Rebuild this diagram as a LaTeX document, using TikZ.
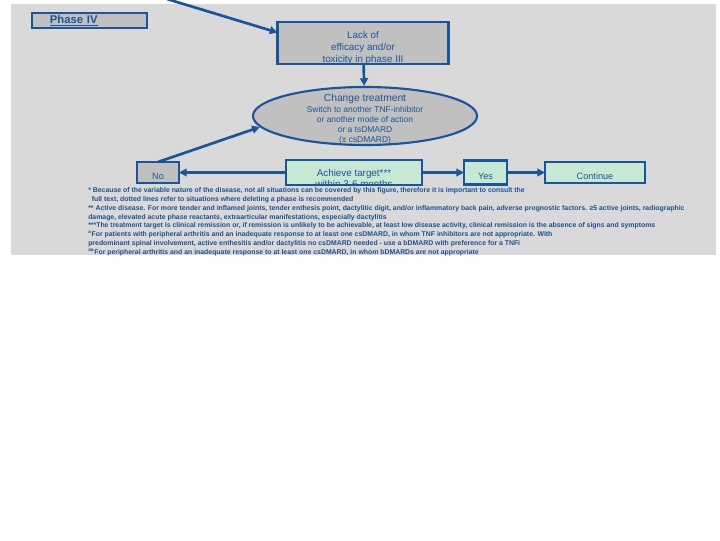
\documentclass[tikz,border=0pt]{standalone}
\usepackage{fontspec}
\setmainfont{Liberation Sans}
\usetikzlibrary{shapes.geometric,arrows.meta}
\definecolor{bggray}{HTML}{D9D9D9}
\definecolor{boxgray}{HTML}{C0C0C0}
\definecolor{boxgreen}{HTML}{C6E8D5}
\definecolor{navy}{HTML}{1C5597}
\definecolor{noteblue}{HTML}{1F4F8E}

\begin{document}
\begin{tikzpicture}[x=0.025cm,y=-0.025cm,
    box/.style={draw=navy,line width=1.5pt,text=navy,inner sep=0pt,outer sep=0pt},
    graybox/.style={box,fill=boxgray},
    greenbox/.style={box,fill=boxgreen},
    lowtext/.style={text height=10pt,text depth=0pt},
    flow/.style={draw=navy,line width=1.9pt,-{Triangle[length=5.5pt,width=5.5pt]}}]
    \useasboundingbox (0,0) rectangle (720,540);
    \fill[bggray] (11,4) rectangle (716,255);
%
    \node[graybox, minimum width=2.875cm, minimum height=0.375cm, text width=1.975cm,
          inner xsep=0.45cm, align=left, font=\bfseries\fontsize{8}{9}\selectfont] (phase) at (89.5,20.5) {\underline{Phase IV}};
    \node[graybox, minimum width=4.275cm, minimum height=1.05cm, align=center, text height=29pt,
          font=\fontsize{7}{8.5}\selectfont] (lack) at (363,43) {Lack of\\efficacy and/or\\toxicity in phase III};
    \coordinate (topin) at (167,-1);
%
    \node[ellipse, draw=navy, line width=1.5pt, fill=boxgray, inner sep=0pt,
          minimum width=5.6cm, minimum height=1.45cm] (change) at (365,116) {};
    \node[text=navy, align=center, font=\fontsize{6}{7.3}\selectfont] (changetxt) at (365,119.5)
          {{\fontsize{7.3}{7.3}\selectfont Change treatment}\\Switch to another TNF-inhibitor\\or another mode of action\\or a tsDMARD\\(± csDMARD)};
%
    \node[greenbox, minimum width=3.4cm, minimum height=0.625cm] (achieve) at (354,172.5) {};
    \begin{scope}
      \clip (achieve.north west) rectangle (achieve.south east);
      \node[text=navy, align=center, font=\fontsize{7}{7.8}\selectfont] (achievetxt) at (354,178) {Achieve target***\\within 3-6 months};
    \end{scope}
    \draw[navy, line width=1.5pt] (achieve.north west) rectangle (achieve.south east);
    \node[graybox, lowtext, minimum width=1.05cm, minimum height=0.525cm, font=\fontsize{6.5}{7}\selectfont] (no) at (158,172.5) {No};
    \node[greenbox, lowtext, minimum width=1.075cm, minimum height=0.6cm, font=\fontsize{6.5}{7}\selectfont] (yes) at (485.5,172.5) {Yes};
    \node[greenbox, lowtext, minimum width=2.5cm, minimum height=0.525cm, font=\fontsize{6.5}{7}\selectfont] (cont) at (595,172.5) {Continue};
%
    \draw[flow] (topin) -- (lack.173);
    \draw[flow] (lack) -- (change);
    \draw[flow] (achieve) -- (no);
    \draw[flow] (achieve) -- (yes);
    \draw[flow] (yes) -- (cont);
    \draw[flow] (no.north) -- (change.186);
%
    \node[anchor=north west, inner sep=0pt, text=noteblue, align=left,
          font=\bfseries\fontsize{4.9}{6.25}\selectfont] (notes) at (88,187.5)
      {* Because of the variable nature of the disease, not all situations can be covered by this figure, therefore it is important to consult the\\
       \hspace*{2.5pt}full text, dotted lines refer to situations where deleting a phase is recommended\\
       ** Active disease. For more tender and inflamed joints, tender enthesis point, dactylitic digit, and/or inflammatory back pain, adverse prognostic factors. ≥5 active joints, radiographic\\
       damage, elevated acute phase reactants, extraarticular manifestations, especially dactylitis\\
       ***The treatment target is clinical remission or, if remission is unlikely to be achievable, at least low disease activity, clinical remission is the absence of signs and symptoms\\
       \textsuperscript{a}For patients with peripheral arthritis and an inadequate response to at least one csDMARD, in whom TNF inhibitors are not appropriate. With\\
       predominant spinal involvement, active enthesitis and/or dactylitis no csDMARD needed - use a bDMARD with preference for a TNFi\\
       \textsuperscript{aa}For peripheral arthritis and an inadequate response to at least one csDMARD, in whom bDMARDs are not appropriate};
\end{tikzpicture}
\end{document}
